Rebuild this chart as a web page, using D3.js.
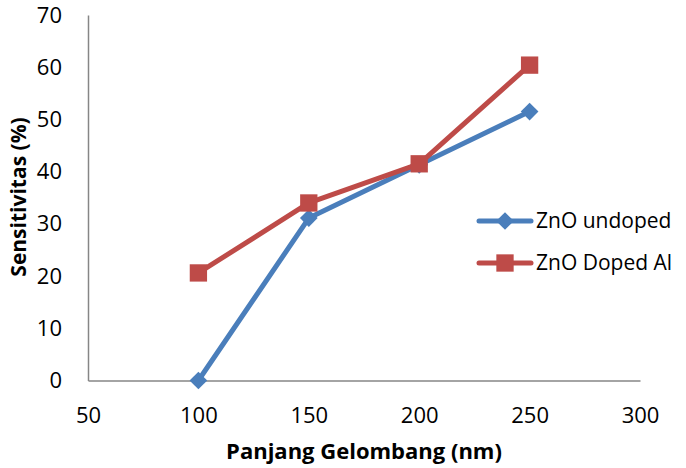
<!DOCTYPE html>
<html><head><meta charset="utf-8">
<script src="https://cdn.jsdelivr.net/npm/d3@7/dist/d3.min.js"></script>
<style>body{margin:0;background:#fff}svg{display:block}</style>
</head><body>
<script>
const wavelengths = [100, 150, 200, 250];
const undoped = [0, 31.1, 41.3, 51.5];
const dopedAl = [20.6, 34.0, 41.5, 60.4];
const seriesNames = ["ZnO undoped", "ZnO Doped Al"];
const xTicks = [50, 100, 150, 200, 250, 300];
const yTicks = [0, 10, 20, 30, 40, 50, 60, 70];

const W = 686, H = 468;
const font = "'Open Sans','Noto Sans',sans-serif";
const svg = d3.select("body").append("svg").attr("width", W).attr("height", H);

const x = d3.scaleLinear().domain([50, 300]).range([88, 640]);
const y = d3.scaleLinear().domain([0, 70]).range([380.5, 15]);

const axisColor = "#868686";
svg.append("g").attr("transform", "translate(0,380.5)")
  .call(d3.axisBottom(x).tickValues(xTicks).tickSize(0).tickPadding(27))
  .call(g => g.select(".domain").attr("stroke", axisColor).attr("stroke-width", 1.5))
  .call(g => g.selectAll("text").attr("font-family", font).attr("font-size", 22).attr("fill", "#000"));
svg.append("g").attr("transform", "translate(88,0)")
  .call(d3.axisLeft(y).tickValues(yTicks).tickSize(0).tickPadding(26))
  .call(g => g.select(".domain").attr("stroke", axisColor).attr("stroke-width", 1.5))
  .call(g => g.selectAll("text").attr("font-family", font).attr("font-size", 22).attr("fill", "#000"));

svg.append("text").attr("x", 364).attr("y", 459).attr("text-anchor", "middle")
  .attr("font-family", font).attr("font-size", 22).attr("font-weight", "bold").text("Panjang Gelombang (nm)");
svg.append("text").attr("transform", "translate(26,197) rotate(-90)").attr("text-anchor", "middle")
  .attr("font-family", font).attr("font-size", 21).attr("font-weight", "bold").text("Sensitivitas (%)");

const colors = ["#4a7ebb", "#be4b48"];
const data = [undoped, dopedAl];
const line = d3.line().x((d, i) => x(wavelengths[i])).y(d => y(d));
const diamond = d3.symbol().type(d3.symbolDiamond2).size(200);
const square = d3.symbol().type(d3.symbolSquare).size(300);
const shapes = [diamond, square];

data.forEach((vals, s) => {
  svg.append("path").datum(vals).attr("d", line).attr("fill", "none")
    .attr("stroke", colors[s]).attr("stroke-width", 5).attr("stroke-linejoin", "round").attr("stroke-linecap", "round");
  svg.selectAll(null).data(vals).enter().append("path")
    .attr("transform", (d, i) => `translate(${x(wavelengths[i])},${y(d)})`)
    .attr("d", shapes[s]()).attr("fill", colors[s]);
});

// legend
seriesNames.forEach((name, s) => {
  const cy = 221 + s * 42;
  svg.append("line").attr("x1", 479).attr("x2", 531).attr("y1", cy).attr("y2", cy)
    .attr("stroke", colors[s]).attr("stroke-width", 5).attr("stroke-linecap", "round");
  svg.append("path").attr("transform", `translate(505,${cy})`).attr("d", shapes[s]()).attr("fill", colors[s]);
  svg.append("text").attr("x", 536).attr("y", cy).attr("dy", "0.35em")
    .attr("font-family", font).attr("font-size", 21).attr("fill", "#000").text(name);
});
</script>
</body></html>
